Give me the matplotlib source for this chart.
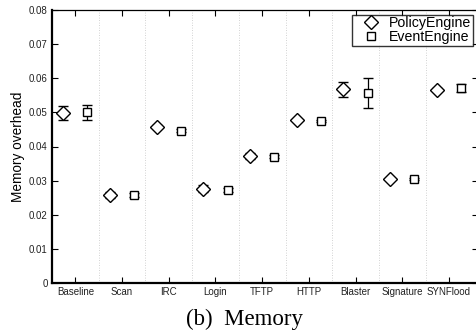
import matplotlib
matplotlib.use("Agg")
import matplotlib.pyplot as plt
from matplotlib.lines import Line2D
import numpy as np

categories = ["Baseline", "Scan", "IRC", "Login", "TFTP", "HTTP", "Blaster", "Signature", "SYNFlood"]
policy_mean = [0.0499, 0.0258, 0.0458, 0.0276, 0.0372, 0.0479, 0.0568, 0.0304, 0.0567]
policy_err = [0.0021, 0.0010, 0.0004, 0.0010, 0.0009, 0.0003, 0.0022, 0.0003, 0.0005]
event_mean = [0.0500, 0.0258, 0.0446, 0.0273, 0.0370, 0.0476, 0.0558, 0.0305, 0.0572]
event_err = [0.0021, 0.0006, 0.0004, 0.0006, 0.0004, 0.0003, 0.0044, 0.0004, 0.0011]
yticks = [0, 0.01, 0.02, 0.03, 0.04, 0.05, 0.06, 0.07, 0.08]

W, H = 477, 331
fig = plt.figure(figsize=(W / 100, H / 100), dpi=100)
ax = fig.add_axes([52 / W, 1 - 283 / H, (478 - 52) / W, (283 - 10) / H])

x = np.arange(1, len(categories) + 1)
ax.errorbar(x - 0.26, policy_mean, yerr=policy_err, fmt="D", ms=7, mfc="white",
            mec="black", mew=1.0, ecolor="black", elinewidth=0.9, capsize=3.5,
            capthick=0.9, zorder=3)
ax.errorbar(x + 0.26, event_mean, yerr=event_err, fmt="s", ms=6.2, mfc="white",
            mec="black", mew=1.0, ecolor="black", elinewidth=0.9, capsize=3.5,
            capthick=0.9, zorder=3)

for b in np.arange(1.5, len(categories), 1.0):
    ax.axvline(b, color="#c4c4c4", linestyle=(0, (1, 2)), linewidth=0.6, zorder=1)

ax.set_xlim(0.5, 9.62)
ax.set_ylim(0, 0.08)
ax.set_xticks(x)
ax.set_xticklabels(categories)
ax.set_yticks(yticks)
ax.set_yticklabels(["0", "0.01", "0.02", "0.03", "0.04", "0.05", "0.06", "0.07", "0.08"])
ax.tick_params(direction="in", length=4, width=0.8, labelsize=7, top=True, right=True,
               pad=3, labelcolor="#222222")
for lab in ax.get_xticklabels() + ax.get_yticklabels():
    lab.set_family("Liberation Sans")

ax.spines["left"].set_linewidth(1.6)
ax.spines["bottom"].set_linewidth(1.6)
ax.spines["top"].set_linewidth(0.9)
ax.spines["right"].set_linewidth(0.9)

ax.set_ylabel("Memory overhead", fontsize=9.8, family="Liberation Sans", labelpad=3)

handles = [Line2D([], [], marker="D", ls="none", ms=7, mfc="white", mec="black", mew=1.0),
           Line2D([], [], marker="s", ls="none", ms=6.2, mfc="white", mec="black", mew=1.0)]
leg = ax.legend(handles, ["PolicyEngine", "EventEngine"], loc="upper right",
                bbox_to_anchor=((473 - 52) / (478 - 52), 1 - 5 / 273),
                prop={"family": "Liberation Sans", "size": 10.2}, frameon=True, fancybox=False,
                edgecolor="black", borderpad=0.1, handletextpad=0.05, labelspacing=0.0,
                handlelength=2.5, borderaxespad=0)
leg.get_frame().set_linewidth(1.0)

fig.text(244 / W, 1 - 319 / H, "(b)  Memory", ha="center", va="center",
         family="Liberation Serif", fontsize=16.5)

fig.savefig("out.png", dpi=100)
